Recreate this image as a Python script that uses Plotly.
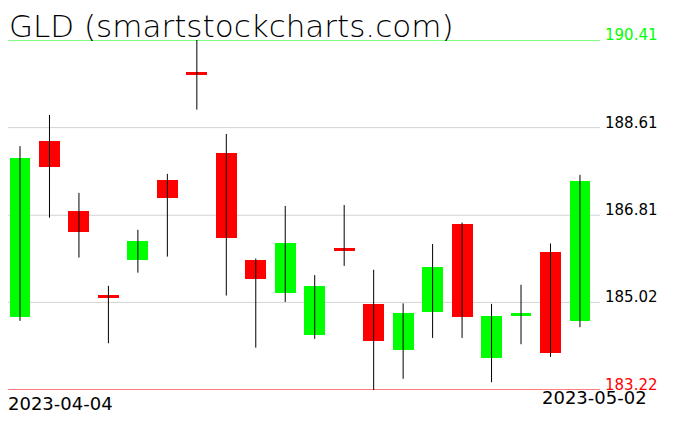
import plotly.graph_objects as go

dates = ["2023-04-04", "2023-04-05", "2023-04-06", "2023-04-10", "2023-04-11",
         "2023-04-12", "2023-04-13", "2023-04-14", "2023-04-17", "2023-04-18",
         "2023-04-19", "2023-04-20", "2023-04-21", "2023-04-24", "2023-04-25",
         "2023-04-26", "2023-04-27", "2023-04-28", "2023-05-01", "2023-05-02"]
opens = [184.71, 188.34, 186.90, 185.17, 185.90, 187.53, 189.75, 188.09, 185.89, 185.22,
         184.34, 186.13, 184.99, 184.05, 184.83, 186.63, 183.88, 184.76, 186.05, 184.64]
highs = [188.23, 188.87, 187.27, 185.36, 186.51, 187.66, 190.41, 188.48, 185.92, 187.00,
         185.58, 187.02, 185.69, 185.00, 186.22, 186.66, 184.99, 185.38, 186.23, 187.64]
lows = [184.64, 186.76, 185.94, 184.18, 185.63, 185.96, 188.98, 185.16, 184.09, 185.03,
        184.27, 185.77, 183.22, 183.45, 184.29, 184.29, 183.38, 184.16, 183.90, 184.51]
closes = [187.99, 187.81, 186.47, 185.10, 186.28, 187.17, 189.70, 186.35, 185.51, 186.24,
          185.36, 186.08, 184.23, 184.80, 185.75, 184.73, 184.74, 184.80, 183.97, 187.51]

title_text = "GLD (smartstockcharts.com)"
level_values = [190.41, 188.61, 186.81, 185.02, 183.22]
level_labels = ["190.41", "188.61", "186.81", "185.02", "183.22"]
level_colors = ["#00ff00", "#000000", "#000000", "#000000", "#ff0000"]
line_colors = ["#00ff00", "#d3d3d3", "#d3d3d3", "#d3d3d3", "#ff0000"]

UP = "#00ff00"
DOWN = "#ff0000"

idx = list(range(len(dates)))

# wicks
wx, wy = [], []
for i in idx:
    wx += [i, i, None]
    wy += [lows[i], highs[i], None]

fig = go.Figure()
fig.add_trace(go.Scatter(x=wx, y=wy, mode="lines",
                         line=dict(color="black", width=1),
                         hoverinfo="skip", showlegend=False))

base = [min(o, c) for o, c in zip(opens, closes)]
height = [abs(c - o) for o, c in zip(opens, closes)]
colors = [UP if c >= o else DOWN for o, c in zip(opens, closes)]
fig.add_trace(go.Bar(x=idx, y=height, base=base, width=0.71,
                     marker=dict(color=colors, line=dict(width=0)),
                     showlegend=False))

shapes = []
annotations = []
for v, lab, tc, lc in zip(level_values, level_labels, level_colors, line_colors):
    shapes.append(dict(type="line", xref="paper", x0=0, x1=1, yref="y", y0=v, y1=v,
                       line=dict(color=lc, width=1), layer="below"))
    annotations.append(dict(xref="paper", x=1, xshift=3, xanchor="left",
                            yref="y", y=v, yanchor="bottom", yshift=-6,
                            text=lab, showarrow=False,
                            font=dict(family="DejaVu Sans", size=15, color=tc)))

annotations.append(dict(xref="paper", x=0, xshift=-1, xanchor="left",
                        yref="y", y=level_values[0], yanchor="bottom", yshift=-6,
                        text=title_text, showarrow=False,
                        font=dict(family="DejaVu Sans", size=31, color="black",
                                  weight=200)))
annotations.append(dict(xref="paper", x=0, xshift=-2, xanchor="left",
                        yref="paper", y=0, yanchor="top", yshift=-1,
                        text=dates[0], showarrow=False,
                        font=dict(family="DejaVu Sans", size=18, color="black")))
annotations.append(dict(xref="paper", x=1, xshift=49, xanchor="right",
                        yref="paper", y=0, yanchor="top", yshift=5,
                        text=dates[-1], showarrow=False,
                        font=dict(family="DejaVu Sans", size=18, color="black")))

fig.update_layout(
    width=668, height=423,
    margin=dict(l=0, r=76, t=32, b=41),
    paper_bgcolor="white", plot_bgcolor="white",
    xaxis=dict(range=[-0.407, 19.68], showgrid=False, zeroline=False,
               showticklabels=False, ticks="", showline=False),
    yaxis=dict(range=[183.22, 190.41], showgrid=False, zeroline=False,
               showticklabels=False, ticks="", showline=False),
    shapes=shapes, annotations=annotations,
    bargap=0, showlegend=False,
)

fig.write_html("out.html")
